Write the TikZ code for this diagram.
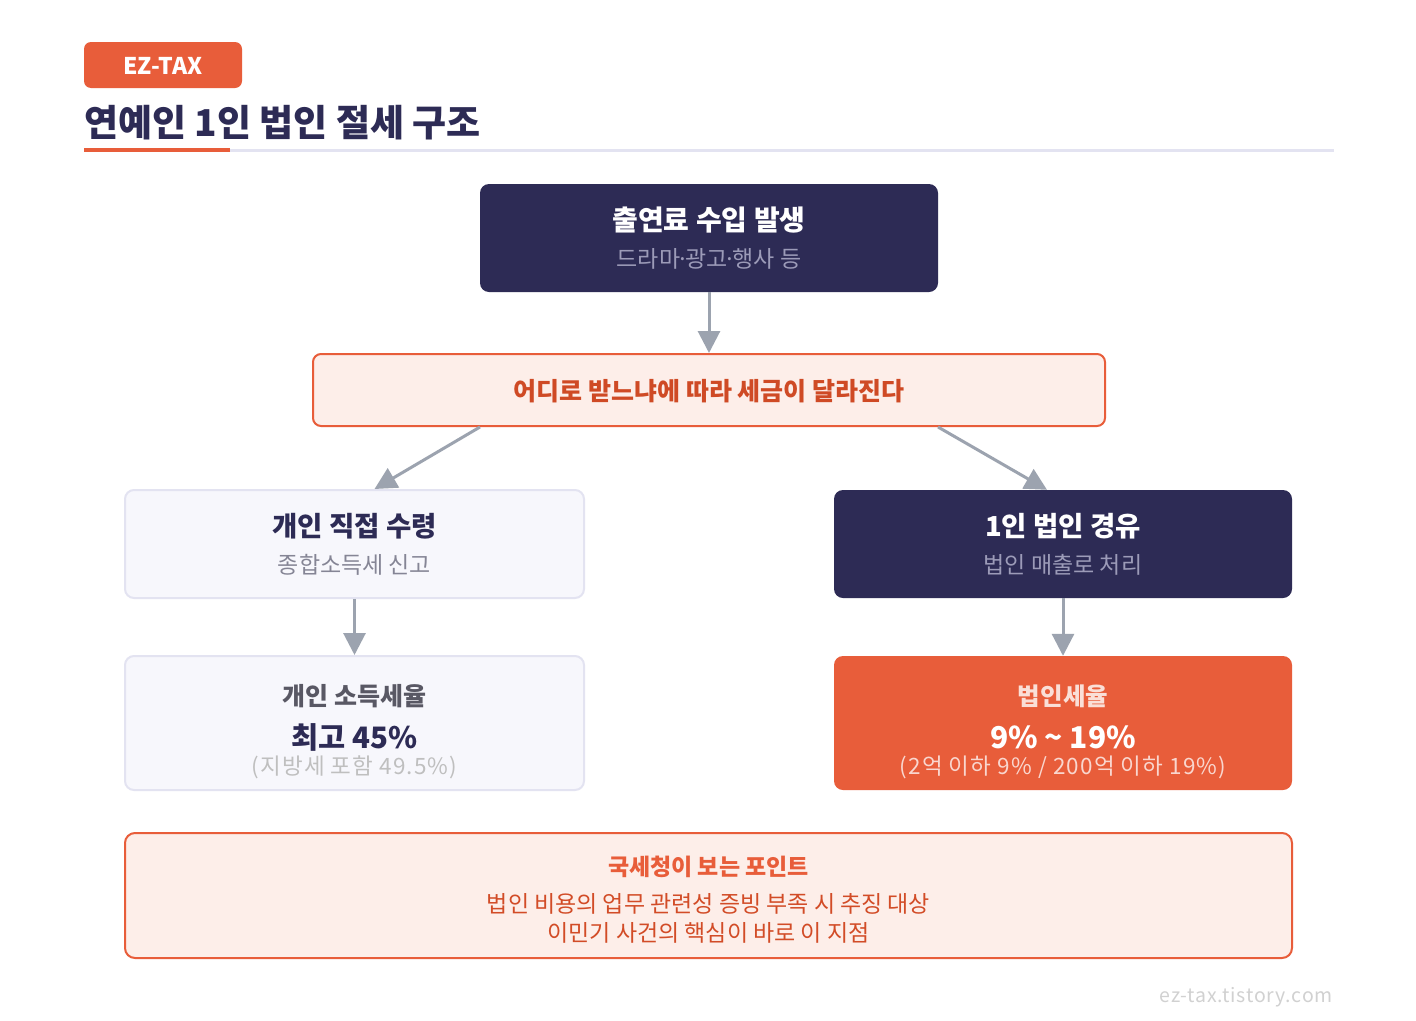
\documentclass[tikz,border=0pt]{standalone}
\usepackage{fontspec}
\setmainfont{Noto Sans CJK KR}
\usetikzlibrary{arrows.meta}
\definecolor{navy}{HTML}{2D2B55}
\definecolor{brand}{HTML}{E85D3A}
\definecolor{peach}{HTML}{FDEEE9}
\definecolor{pale}{HTML}{F7F7FC}
\definecolor{paleline}{HTML}{E3E3F1}
\definecolor{arrowgray}{HTML}{9CA3AF}
\definecolor{subgray}{HTML}{9C9BB8}
\definecolor{midgray}{HTML}{858595}
\definecolor{darkred}{HTML}{CF4A25}
\newcommand{\mdot}{\makebox[5pt][c]{·}}
\tikzset{
  fs/.style={node font=\fontsize{#1}{#1}\selectfont},
  bf/.style={font=\bfseries},
  wide/.style={font=\addfontfeature{LetterSpace=#1}},
  box/.style={rounded corners=9pt, minimum width=#1, inner sep=0pt},
  navybox/.style={box=458pt, fill=navy, minimum height=108pt},
  palebox/.style={box=459pt, fill=pale, draw=paleline, line width=2pt},
  txt/.style={inner sep=0pt, anchor=center},
  arr/.style={draw=arrowgray, line width=3pt, -{Triangle[width=22pt,length=22pt]}},
}
\begin{document}
\begin{tikzpicture}[x=1pt,y=-1pt]
\useasboundingbox[fill=white] (0,0) rectangle (1416,1020);

% header
\node[fill=brand, rounded corners=7pt, minimum width=158pt, minimum height=46pt, inner sep=0pt] (badge) at (163,65) {};
\node[txt, text=white, fs=23, bf] (badgetxt) at (163,66) {EZ-TAX};
\node[inner sep=0pt, anchor=west, text=navy, fs=37, bf] (title) at (84,123) {연예인 1인 법인 절세 구조};
\coordinate (ulA) at (84,150);
\coordinate (ulB) at (1334,150);
\coordinate (ulC) at (230,150);
\draw[paleline, line width=3pt] (ulA) -- (ulB);
\draw[brand, line width=4.5pt] (ulA) -- (ulC);

% top box
\node[navybox] (top) at (709,238) {};
\node[txt, text=white, fs=28, bf] (topT) at (709,220) {출연료 수입 발생};
\node[txt, text=subgray, fs=23] (topS) at (709,259) {드라마\mdot 광고\mdot 행사 등};

% middle box
\node[box=792pt, fill=peach, draw=brand, line width=2pt, minimum height=72pt, rounded corners=8pt] (mid) at (709,390) {};
\node[txt, text=darkred, fs=25, bf] (midT) at (709,391) {어디로 받느냐에 따라 세금이 달라진다};

% left boxes
\node[palebox, minimum height=108pt] (L1) at (354.5,544) {};
\node[txt, text=navy, fs=27.5, bf] (L1T) at (354.5,526) {개인 직접 수령};
\node[txt, text=midgray, fs=23] (L1S) at (354.5,565) {종합소득세 신고};

\node[palebox, minimum height=134pt] (L2) at (354.5,723) {};
\node[txt, text=black!60!navy!70, fs=25, bf] (L2T) at (354.5,696) {개인 소득세율};
\node[txt, text=navy, fs=29.5, bf] (L2V) at (354.5,737) {최고 45\%};
\node[txt, text=black!25, fs=22.5, wide=5] (L2S) at (354.5,767) {(지방세 포함 49.5\%)};

% right boxes
\node[navybox] (R1) at (1063,544) {};
\node[txt, text=white, fs=27.5, bf] (R1T) at (1063,526) {1인 법인 경유};
\node[txt, text=subgray, fs=23] (R1S) at (1063,565) {법인 매출로 처리};

\node[box=458pt, fill=brand, minimum height=134pt] (R2) at (1063,723) {};
\node[txt, text=white!80!brand, fs=24.5, bf] (R2T) at (1063,696) {법인세율};
\node[txt, text=white, fs=30, bf] (R2V) at (1063,737) {9\% \textasciitilde{} 19\%};
\node[txt, text=white!75!brand, fs=22.5, wide=5] (R2S) at (1063,767) {(2억 이하 9\% / 200억 이하 19\%)};

% bottom box
\node[box=1167pt, fill=peach, draw=brand, line width=2pt, minimum height=125pt, rounded corners=10pt] (bot) at (708.5,895.5) {};
\node[txt, text=brand, fs=23, bf] (botT) at (708.5,867) {국세청이 보는 포인트};
\node[txt, text=darkred!90!brand, fs=23] (botA) at (708.5,904) {법인 비용의 업무 관련성 증빙 부족 시 추징 대상};
\node[txt, text=darkred!90!brand, fs=23] (botB) at (708.5,933) {이민기 사건의 핵심이 바로 이 지점};

% footer
\node[inner sep=0pt, anchor=east, text=black!18, fs=19.5, wide=4] (foot) at (1333,997) {ez-tax.tistory.com};

% connectors
\draw[arr] (top.south) -- (mid.north);
\draw[arr] ([xshift=-229pt]mid.south) -- ([xshift=20pt]L1.north);
\draw[arr] ([xshift=229pt]mid.south) -- ([xshift=-16pt]R1.north);
\draw[arr] (L1.south) -- (L2.north);
\draw[arr] (R1.south) -- (R2.north);
\end{tikzpicture}
\end{document}
